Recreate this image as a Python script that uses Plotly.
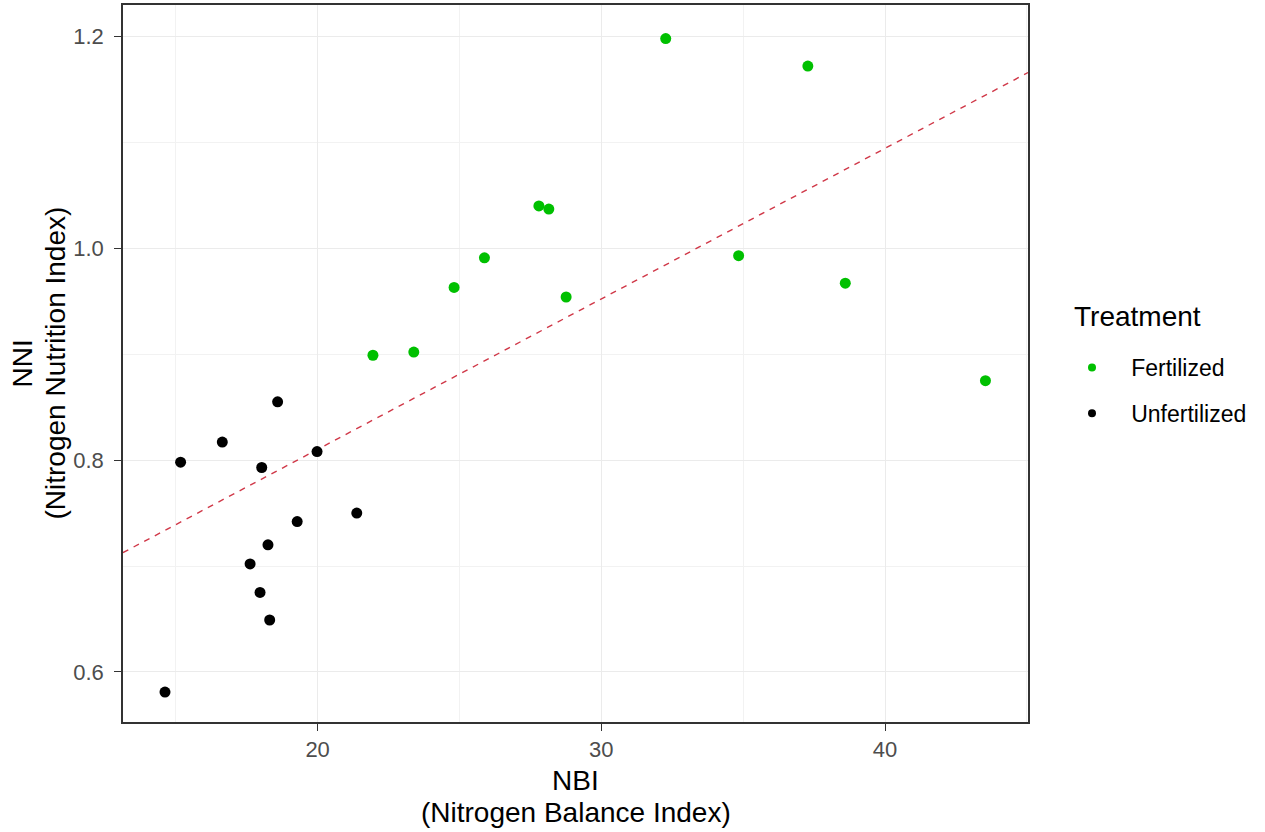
import plotly.graph_objects as go

# Data
fert_nbi = [32.27, 37.28, 27.80, 28.15, 28.76, 34.84, 38.60, 43.54, 25.88, 24.81, 21.95, 23.39]
fert_nni = [1.198, 1.172, 1.040, 1.037, 0.954, 0.993, 0.967, 0.875, 0.991, 0.963, 0.899, 0.902]

unfert_nbi = [14.62, 15.17, 16.64, 18.59, 18.03, 19.98, 19.28, 21.38, 18.25, 17.62, 17.97, 18.31]
unfert_nni = [0.581, 0.798, 0.817, 0.855, 0.793, 0.808, 0.742, 0.750, 0.720, 0.702, 0.675, 0.649]

# Fitted line
fit_intercept = 0.5259
fit_slope = 0.01421

x_range = [13.14, 45.04]
y_range = [0.5527, 1.2297]

x_ticks = [20, 30, 40]
x_minor = [15, 25, 35, 45]
y_ticks = [0.6, 0.8, 1.0, 1.2]
y_minor = [0.7, 0.9, 1.1]

font_family = "Liberation Sans, Arial, sans-serif"
green = "#00C000"
NB = "\u00a0"

# plot area in pixels
L, R, T, B = 123, 1028, 5, 722
W, H = 1265, 832


def px_x(p):
    return (p - L) / (R - L)


def px_y(p):
    return (B - p) / (B - T)


fig = go.Figure()

fig.add_trace(go.Scatter(
    x=x_range, y=[fit_intercept + fit_slope * x for x in x_range],
    mode="lines", line=dict(color="#d03848", width=1.4, dash="6px,6px"),
    showlegend=False, hoverinfo="skip"))

fig.add_trace(go.Scatter(
    x=fert_nbi, y=fert_nni, mode="markers", name="Fertilized",
    marker=dict(color=green, size=11), showlegend=False))

fig.add_trace(go.Scatter(
    x=unfert_nbi, y=unfert_nni, mode="markers", name="Unfertilized",
    marker=dict(color="#000000", size=11), showlegend=False))

# legend-only entries (smaller keys, as in the reference)
fig.add_trace(go.Scatter(
    x=[None], y=[None], mode="markers", name=NB * 3 + "Fertilized",
    marker=dict(color=green, size=8), legendgroup="a"))
fig.add_trace(go.Scatter(
    x=[None], y=[None], mode="markers", name=NB * 3 + "Unfertilized",
    marker=dict(color="#000000", size=8), legendgroup="b"))

axis_common = dict(
    showgrid=True, gridcolor="#ebebeb", gridwidth=1.2,
    showline=True, linecolor="#333333", linewidth=1.5, mirror=True,
    ticks="outside", ticklen=7, tickcolor="#333333", tickwidth=1.2,
    tickfont=dict(family=font_family, size=22, color="#4d4d4d"),
    zeroline=False,
)

fig.update_xaxes(range=x_range, tickvals=x_ticks,
                 minor=dict(showgrid=True, gridcolor="#f2f2f2", gridwidth=0.8,
                            tickvals=x_minor, ticks=""),
                 **axis_common)
fig.update_yaxes(range=y_range, tickvals=y_ticks, tickformat=".1f",
                 ticklabelstandoff=6,
                 minor=dict(showgrid=True, gridcolor="#f2f2f2", gridwidth=0.8,
                            tickvals=y_minor, ticks=""),
                 **axis_common)

title_font = dict(family=font_family, size=28, color="#000000")
annotations = [
    dict(text="NBI", x=px_x(575.5), y=px_y(780)),
    dict(text="(Nitrogen Balance Index)", x=px_x(575.5), y=px_y(812)),
    dict(text="NNI", x=px_x(22), y=px_y(363.5), textangle=-90),
    dict(text="(Nitrogen Nutrition Index)", x=px_x(55), y=px_y(363.5), textangle=-90),
]
for a in annotations:
    a.update(xref="paper", yref="paper", xanchor="center", yanchor="middle",
             showarrow=False, font=title_font)
annotations.append(dict(text="Treatment", x=px_x(1072), y=px_y(316),
                        xref="paper", yref="paper", xanchor="left", yanchor="middle",
                        showarrow=False, font=dict(family=font_family, size=28, color="#000000")))

fig.update_layout(
    width=W, height=H,
    paper_bgcolor="white", plot_bgcolor="white",
    margin=dict(l=L, r=W - R, t=T, b=H - B, autoexpand=False),
    font=dict(family=font_family),
    annotations=annotations,
    legend=dict(
        font=dict(family=font_family, size=23, color="#000000"),
        x=px_x(1072), xanchor="left", y=px_y(346), yanchor="top",
        tracegroupgap=13, itemsizing="trace",
        bgcolor="rgba(0,0,0,0)",
    ),
)

fig.write_html("out.html", config={"displayModeBar": False},
               post_script="document.body.style.margin='0';")
